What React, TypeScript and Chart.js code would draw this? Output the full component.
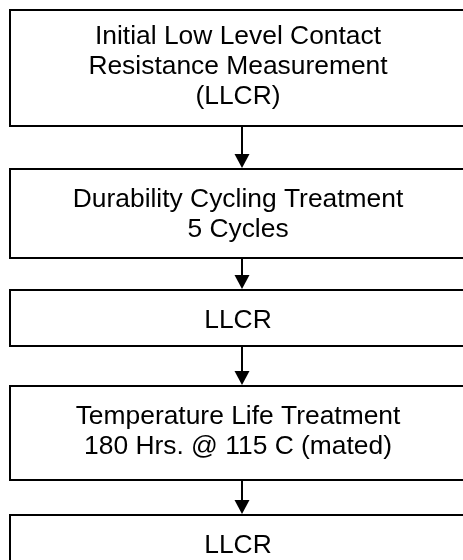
import React, { useEffect, useRef } from "react";
import { Chart, registerables } from "chart.js";

Chart.register(...registerables);

// Flow steps (text lines per box)
const stepLabels: string[][] = [
  ["Initial Low Level Contact", "Resistance Measurement", "(LLCR)"],
  ["Durability Cycling Treatment", "5 Cycles"],
  ["LLCR"],
  ["Temperature Life Treatment", "180 Hrs. @ 115 C (mated)"],
  ["LLCR"],
];
// Vertical extent of each step on the flow axis
const stepStart = [10, 169, 290, 386, 515];
const stepEnd = [126, 258, 346, 480, 590];
// Horizontal extent of the boxes on the x axis
const boxLeft = 10;
const boxRight = 474;

const flowPlugin = {
  id: "flowPlugin",
  afterDatasetsDraw(chart: any) {
    const ctx = chart.ctx as CanvasRenderingContext2D;
    const xs = chart.scales.x;
    const ys = chart.scales.y;
    const x0 = xs.getPixelForValue(boxLeft);
    const x1 = xs.getPixelForValue(boxRight);
    const xc = (x0 + x1) / 2;
    ctx.save();
    // arrows
    for (let i = 0; i < stepLabels.length - 1; i++) {
      const yA = ys.getPixelForValue(stepEnd[i]);
      const yB = ys.getPixelForValue(stepStart[i + 1]);
      const head = 15;
      ctx.strokeStyle = "#000";
      ctx.lineWidth = 2;
      ctx.beginPath();
      ctx.moveTo(xc, yA);
      ctx.lineTo(xc, yB - head + 1);
      ctx.stroke();
      ctx.fillStyle = "#000";
      ctx.beginPath();
      ctx.moveTo(xc - 7.5, yB - head);
      ctx.lineTo(xc + 7.5, yB - head);
      ctx.lineTo(xc, yB - 1);
      ctx.closePath();
      ctx.fill();
    }
    // boxes
    for (let i = 0; i < stepLabels.length; i++) {
      const y0 = ys.getPixelForValue(stepStart[i]);
      const y1 = ys.getPixelForValue(stepEnd[i]);
      ctx.fillStyle = "#fff";
      ctx.fillRect(x0, y0, x1 - x0, y1 - y0);
      ctx.strokeStyle = "#000";
      ctx.lineWidth = 2;
      ctx.strokeRect(x0, y0, x1 - x0, y1 - y0);
      ctx.fillStyle = "#000";
      ctx.font = "26.4px 'Liberation Sans', Arial, sans-serif";
      ctx.textAlign = "center";
      ctx.textBaseline = "alphabetic";
      const lines = stepLabels[i];
      const firstCapCenter = y0 + (i === 0 ? 24 : 28);
      lines.forEach((ln, k) => {
        ctx.fillText(ln, 238, firstCapCenter + k * 30 + 9.5);
      });
    }
    ctx.restore();
  },
};

export default function App() {
  const ref = useRef<HTMLCanvasElement | null>(null);
  useEffect(() => {
    if (!ref.current) return;
    const chart = new Chart(ref.current, {
      type: "scatter",
      data: { datasets: [{ data: [], pointRadius: 0 }] },
      options: {
        animation: false,
        responsive: false,
        events: [],
        layout: { padding: 0 },
        plugins: { legend: { display: false }, tooltip: { enabled: false } },
        scales: {
          x: { type: "linear", min: 0, max: 463, display: false },
          y: { type: "linear", min: 0, max: 560, reverse: true, display: false },
        },
      },
      plugins: [flowPlugin],
    });
    return () => chart.destroy();
  }, []);
  return (
    <div style={{ position: "absolute", left: 0, top: 0, width: 463, height: 560, background: "#fff" }}>
      <canvas ref={ref} width={463} height={560} style={{ display: "block" }} />
    </div>
  );
}
